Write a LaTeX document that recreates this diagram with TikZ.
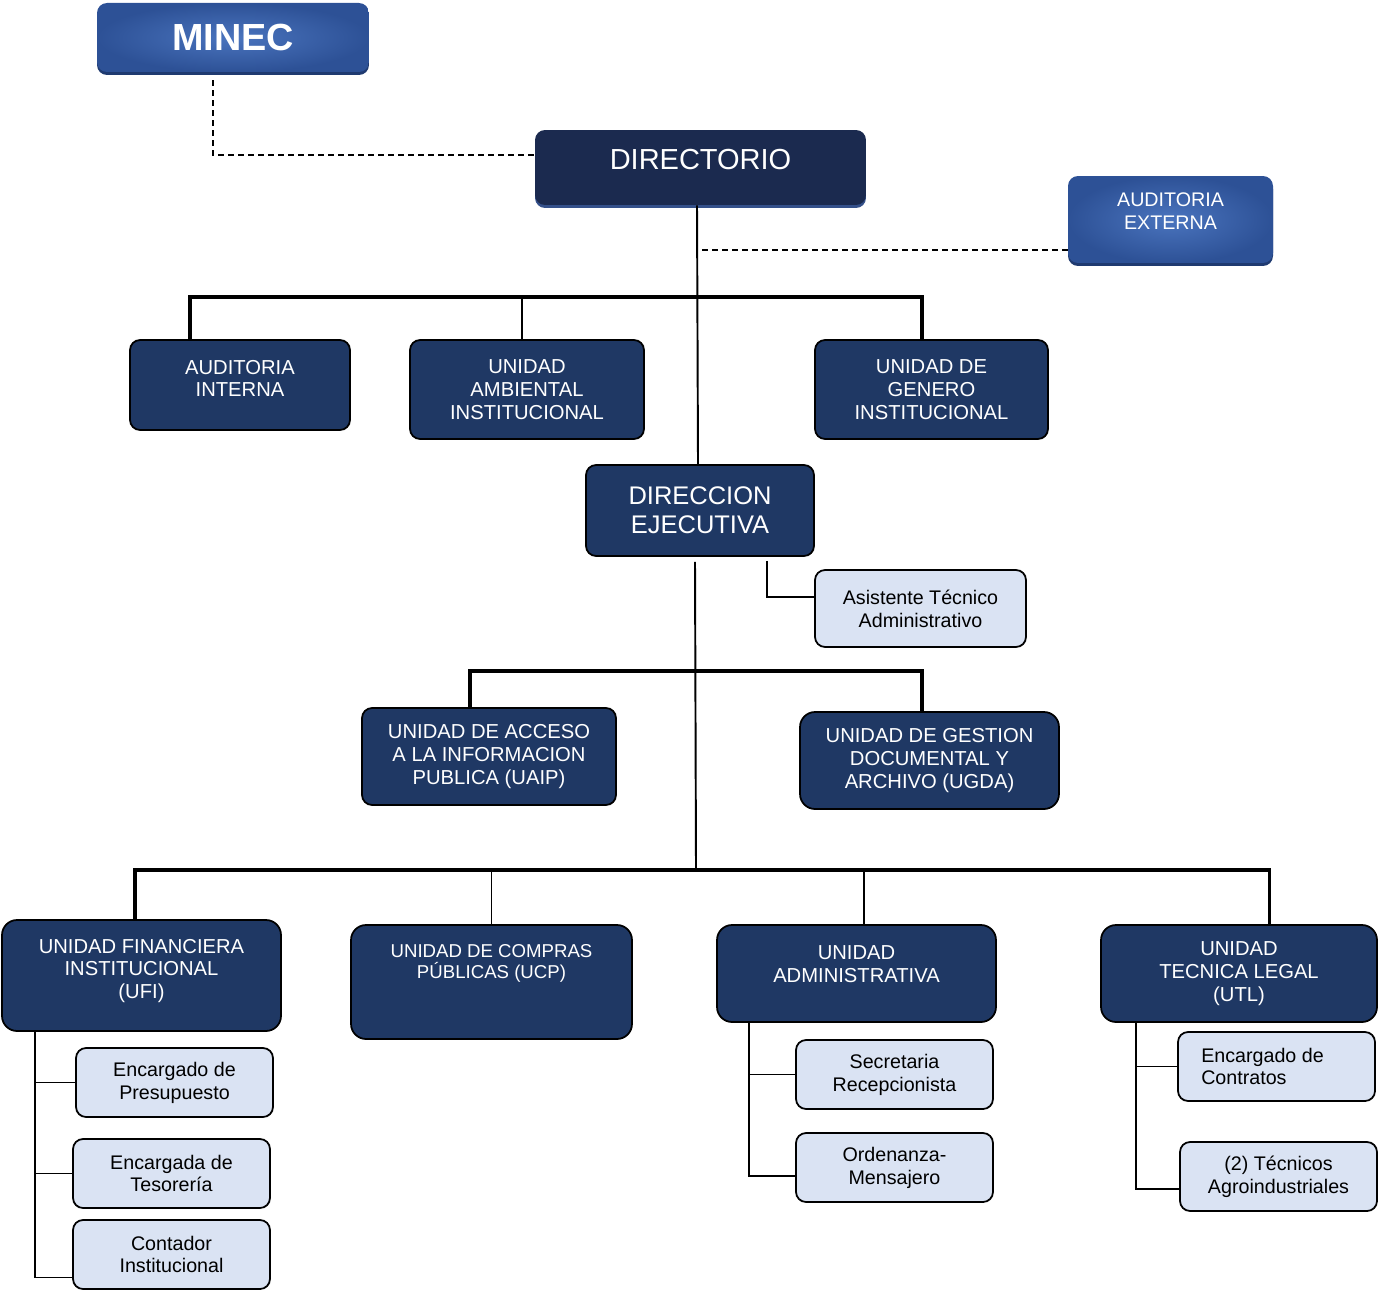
\documentclass[tikz,border=0pt]{standalone}
\usepackage{fontspec}
\setmainfont{Liberation Sans}
\definecolor{unitblue}{HTML}{1F3864}
\definecolor{dirblue}{HTML}{1B2A4F}
\definecolor{dirshadow}{HTML}{34508A}
\definecolor{staffblue}{HTML}{DAE3F3}
\definecolor{headlight}{HTML}{4A74BE}
\definecolor{headdark}{HTML}{2D5196}
\definecolor{headshadow}{HTML}{1F3A70}
\begin{document}
\begin{tikzpicture}[x=0.02cm,y=-0.02cm,
  unit/.style={draw=black,line width=1pt,rounded corners=0.2cm,fill=unitblue,text=white,align=center,inner sep=0pt,font=\fontsize{11.5}{13}\selectfont},
  staff/.style={draw=black,line width=1pt,rounded corners=0.2cm,fill=staffblue,align=center,inner sep=0pt,font=\fontsize{11.2}{13}\selectfont},
  head/.style={rounded corners=0.2cm,inner color=headlight,outer color=headdark,text=white,align=center,inner sep=0pt,preaction={fill=headshadow,transform canvas={yshift=-0.06cm}}},
  dirbox/.style={rounded corners=0.2cm,fill=dirblue,preaction={fill=dirshadow,transform canvas={yshift=-0.06cm}}},
  bar/.style={line width=1.8pt},
  link/.style={line width=1.1pt},
  dotline/.style={dash pattern=on 0.12cm off 0.08cm,line width=0.9pt}]
  \useasboundingbox (0,0) rectangle (1378,1290);

  % top level
  \node[head,minimum width=5.44cm,minimum height=1.38cm,font=\bfseries\fontsize{21.5}{24}\selectfont] (minec) at (233,37.5) {MINEC};
  \node[dirbox,minimum width=6.62cm,minimum height=1.5cm,label={[white,font=\fontsize{16.5}{19}\selectfont,yshift=0.16cm]center:DIRECTORIO}] (dir) at (700.5,167.5) {};
  \node[head,minimum width=4.1cm,minimum height=1.74cm,label={[white,align=center,font=\fontsize{11.2}{13}\selectfont,yshift=0.16cm]center:AUDITORIA\\EXTERNA}] (ae) at (1170.5,219.5) {};

  \node[unit,minimum width=4.4cm,minimum height=1.8cm,label={[white,align=center,font=\fontsize{11.5}{13}\selectfont,yshift=0.13cm]center:AUDITORIA\\INTERNA}] (ai) at (240,385) {};
  \node[unit,minimum width=4.68cm,minimum height=1.98cm] (ua) at (527,389.5) {UNIDAD\\AMBIENTAL\\INSTITUCIONAL};
  \node[unit,minimum width=4.66cm,minimum height=1.98cm] (ug) at (931.5,389.5) {UNIDAD DE\\GENERO\\INSTITUCIONAL};

  \node[unit,minimum width=4.56cm,minimum height=1.82cm,font=\fontsize{14.5}{16.5}\selectfont] (de) at (700,510.5) {DIRECCION\\EJECUTIVA};
  \node[staff,minimum width=4.22cm,minimum height=1.54cm] (ast) at (920.5,608.5) {Asistente Técnico\\Administrativo};

  \node[unit,minimum width=5.08cm,minimum height=1.94cm] (uaip) at (489,756.5) {UNIDAD DE ACCESO\\A LA INFORMACION\\PUBLICA (UAIP)};
  \node[unit,rounded corners=0.3cm,minimum width=5.18cm,minimum height=1.94cm] (ugda) at (929.5,760.5) {UNIDAD DE GESTION\\DOCUMENTAL Y\\ARCHIVO (UGDA)};

  % units
  \node[unit,rounded corners=0.3cm,minimum width=5.58cm,minimum height=2.22cm,label={[white,align=center,font=\fontsize{11.5}{13}\selectfont,yshift=0.09cm]center:UNIDAD FINANCIERA\\INSTITUCIONAL\\(UFI)}] (ufi) at (141.5,975.5) {};
  \node[unit,rounded corners=0.3cm,minimum width=5.62cm,minimum height=2.28cm,label={[white,align=center,font=\fontsize{10.6}{12}\selectfont,yshift=0.38cm]center:UNIDAD DE COMPRAS\\PÚBLICAS (UCP)}] (ucp) at (491.5,982) {};
  \node[unit,rounded corners=0.3cm,minimum width=5.58cm,minimum height=1.94cm,label={[white,align=center,font=\fontsize{11.5}{13}\selectfont,yshift=0.18cm]center:UNIDAD\\ADMINISTRATIVA}] (uadm) at (856.5,973.5) {};
  \node[unit,rounded corners=0.3cm,minimum width=5.52cm,minimum height=1.94cm] (utl) at (1239,973.5) {UNIDAD\\TECNICA LEGAL\\(UTL)};

  \node[staff,minimum width=3.94cm,minimum height=1.38cm] (pre) at (174.5,1082.5) {Encargado de\\Presupuesto};
  \node[staff,minimum width=3.94cm,minimum height=1.38cm] (tes) at (171.5,1173.5) {Encargada de\\Tesorería};
  \node[staff,minimum width=3.94cm,minimum height=1.38cm] (con) at (171.5,1254.5) {Contador\\Institucional};
  \node[staff,minimum width=3.94cm,minimum height=1.38cm] (sec) at (894.5,1074.5) {Secretaria\\Recepcionista};
  \node[staff,minimum width=3.94cm,minimum height=1.38cm] (ord) at (894.5,1167.5) {Ordenanza-\\Mensajero};
  \node[staff,minimum width=3.94cm,minimum height=1.38cm,label={[align=left,font=\fontsize{11.2}{13}\selectfont,xshift=-0.28cm]center:Encargado de\\Contratos}] (ctr) at (1276.5,1066.5) {};
  \node[staff,minimum width=3.94cm,minimum height=1.38cm] (tec) at (1278.5,1176.5) {(2) Técnicos\\Agroindustriales};

  % lines
  \coordinate (top) at ([xshift=-0.07cm]dir.south);
  \draw[dotline] ([xshift=-0.4cm,yshift=-0.16cm]minec.south) |- ([yshift=0.25cm]dir.west);
  \draw[dotline] ([yshift=-0.61cm]ae.west) -- ([yshift=-0.61cm]ae.west -| top);
  \draw[link] (top) -- ([xshift=-0.04cm]de.north);
  \coordinate (b1) at (697,297);
  \draw[bar] ([xshift=-1cm]ai.north) |- (b1) -| ([xshift=-0.19cm]ug.north);
  \draw[link] ([xshift=-0.1cm]ua.north) |- (b1);
  \draw[link] ([xshift=1.34cm,yshift=-0.08cm]de.south) |- ([yshift=0.23cm]ast.west);

  \coordinate (b2) at (696,671);
  \coordinate (b3) at (696,870);
  \draw[link] ([xshift=-0.1cm,yshift=-0.1cm]de.south) -- (b3);
  \draw[bar] ([xshift=-0.38cm]uaip.north) |- (b2) -| ([xshift=-0.15cm]ugda.north);
  \draw[bar] ([xshift=-0.13cm]ufi.north) |- (b3) -| ([xshift=0.61cm]utl.north);
  \draw[link] (ucp.north) -- (ucp.north |- b3);
  \draw[link] ([xshift=0.15cm]uadm.north) |- (b3);

  \coordinate (t1) at ([xshift=-2.13cm]ufi.south);
  \draw[link] (t1) |- ([yshift=-0.46cm]con.west);
  \draw[link] (t1 |- pre.west) -- (pre.west);
  \draw[link] (t1 |- tes.west) -- (tes.west);
  \coordinate (t2) at ([xshift=-2.15cm]uadm.south);
  \draw[link] (t2) |- ([yshift=-0.17cm]ord.west);
  \draw[link] (t2 |- sec.west) -- (sec.west);
  \coordinate (t3) at ([xshift=-2.07cm]utl.south);
  \draw[link] (t3) |- ([yshift=-0.25cm]tec.west);
  \draw[link] (t3 |- ctr.west) -- (ctr.west);
\end{tikzpicture}
\end{document}
